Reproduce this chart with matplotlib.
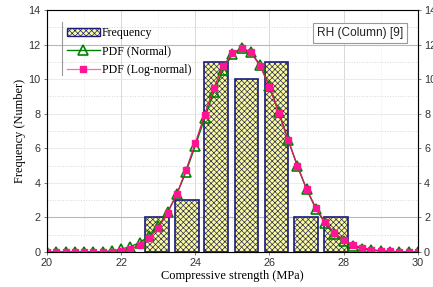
import numpy as np
import matplotlib
matplotlib.use("Agg")
import matplotlib.pyplot as plt
from matplotlib.lines import Line2D

# Histogram data (bin centres)
bin_centers = [22.96, 23.78, 24.55, 25.38, 26.19, 26.98, 27.80]
counts = [2, 3, 11, 10, 11, 2, 2]

# PDF curves, sampled every 0.25 MPa from 20 to 30
x_pdf = [20.0, 20.25, 20.5, 20.75, 21.0, 21.25, 21.5, 21.75, 22.0, 22.25,
         22.5, 22.75, 23.0, 23.25, 23.5, 23.75, 24.0, 24.25, 24.5, 24.75,
         25.0, 25.25, 25.5, 25.75, 26.0, 26.25, 26.5, 26.75, 27.0, 27.25,
         27.5, 27.75, 28.0, 28.25, 28.5, 28.75, 29.0, 29.25, 29.5, 29.75, 30.0]
pdf_normal = [0.0, 0.0, 0.0, 0.0, 0.0, 0.01, 0.02, 0.06, 0.16, 0.31,
              0.54, 0.92, 1.49, 2.29, 3.34, 4.64, 6.15, 7.73, 9.26, 10.55,
              11.44, 11.80, 11.57, 10.80, 9.60, 8.10, 6.50, 4.99, 3.62, 2.50,
              1.66, 1.04, 0.62, 0.35, 0.19, 0.10, 0.05, 0.02, 0.01, 0.0, 0.0]
pdf_lognormal = [0.0, 0.0, 0.0, 0.0, 0.0, 0.0, 0.0, 0.01, 0.05, 0.15,
                 0.40, 0.80, 1.40, 2.25, 3.35, 4.75, 6.30, 7.95, 9.50, 10.75,
                 11.50, 11.80, 11.55, 10.75, 9.55, 8.05, 6.50, 5.00, 3.65, 2.55,
                 1.72, 1.10, 0.70, 0.42, 0.25, 0.14, 0.08, 0.04, 0.02, 0.01, 0.0]

serif = ["Liberation Serif", "DejaVu Serif"]
sans = ["Liberation Sans", "DejaVu Sans"]
plt.rcParams["font.family"] = sans
plt.rcParams["hatch.linewidth"] = 0.5

fig = plt.figure(figsize=(4.33, 2.87), dpi=100)
ax = fig.add_axes([0.1085, 0.122, 0.8565, 0.843])

# grid: light solid majors, faint dotted minors
for gx in [22, 24, 26, 28]:
    ax.axvline(gx, color="#d8d8d8", lw=0.7, zorder=0)
for gx in [21, 23, 25, 27, 29]:
    ax.axvline(gx, color="#e8e8e8", lw=0.7, ls=":", zorder=0)
for gy in [2, 12]:
    ax.axhline(gy, color="#b8b8b8", lw=0.8, zorder=0)
for gy in [4, 6, 8, 10]:
    ax.axhline(gy, color="#e8e8e8", lw=0.6, zorder=0)
for gy in [1, 3, 5, 7, 9, 11, 13]:
    ax.axhline(gy, color="#d8d8d8", lw=0.7, ls=":", zorder=0)

# bars: yellow with dark cross-hatch, navy outline
ax.bar(bin_centers, counts, width=0.64, color="#fbfba0", edgecolor="#2a2a50",
       hatch="xxxxxx", linewidth=0, zorder=2)
ax.bar(bin_centers, counts, width=0.64, fill=False, edgecolor="#1a1a80",
       linewidth=1.2, zorder=3)

ax.plot(x_pdf, pdf_normal, color="#008000", lw=1.0, marker="^", ms=6.5,
        mfc="none", mec="#008000", mew=1.2, zorder=4)
ax.plot(x_pdf, pdf_lognormal, color="#e8106a", lw=0.9, marker="s", ms=4,
        mfc="#ff1493", mec="#ff1493", zorder=5)

ax.set_xlim(20, 30)
ax.set_ylim(0, 14)
ax.set_xticks([20, 22, 24, 26, 28, 30])
ax.set_yticks([0, 2, 4, 6, 8, 10, 12, 14])
ax.tick_params(labelsize=7.8, length=2.5, width=0.6, color="#666666",
               labelcolor="#333333", pad=2)
for s in ax.spines.values():
    s.set_color("#888888")
    s.set_linewidth(0.8)

# right-hand axis repeats the counts (labels run off the figure edge, as in the original)
ax2 = ax.twinx()
ax2.set_ylim(0, 14)
ax2.set_yticks([0, 2, 4, 6, 8, 10, 12, 14])
ax2.tick_params(labelsize=7.8, length=2.5, width=0.6, color="#666666",
                labelcolor="#333333", pad=2)

ax.set_xlabel("Compressive strength (MPa)", family=serif, fontsize=8.9, labelpad=1)
ax.set_ylabel("Frequency (Number)", family=serif, fontsize=8.9, labelpad=2)

handles = [
    plt.Rectangle((0, 0), 1, 1, facecolor="#fbfba0", edgecolor="#1a1a80",
                  hatch="xxxxxx", linewidth=1.0),
    Line2D([], [], color="#008000", lw=1.0, marker="^", ms=6.5, mfc="none",
           mec="#008000", mew=1.2),
    Line2D([], [], color="#ff66cc", lw=0.9, marker="s", ms=4,
           mfc="#ff1493", mec="#ff1493"),
]
leg = ax.legend(handles, ["Frequency", "PDF (Normal)", "PDF (Log-normal)"],
                loc="upper left", bbox_to_anchor=(0.04, 0.95), frameon=False,
                prop={"family": serif, "size": 8.6}, handlelength=2.8,
                handletextpad=0.15, labelspacing=0.55, borderaxespad=0)
leg.set_zorder(6)
ax.add_line(Line2D([0.04, 0.04], [0.73, 0.95], transform=ax.transAxes,
                   color="#999999", lw=0.8, zorder=6))

ax.text(0.96, 0.905, "RH (Column) [9]", transform=ax.transAxes, ha="right",
        va="center", fontsize=8.6, color="#222222",
        bbox=dict(boxstyle="square,pad=0.35", fc="white", ec="#999999", lw=0.8),
        zorder=7)

fig.savefig("out.png", dpi=100)
